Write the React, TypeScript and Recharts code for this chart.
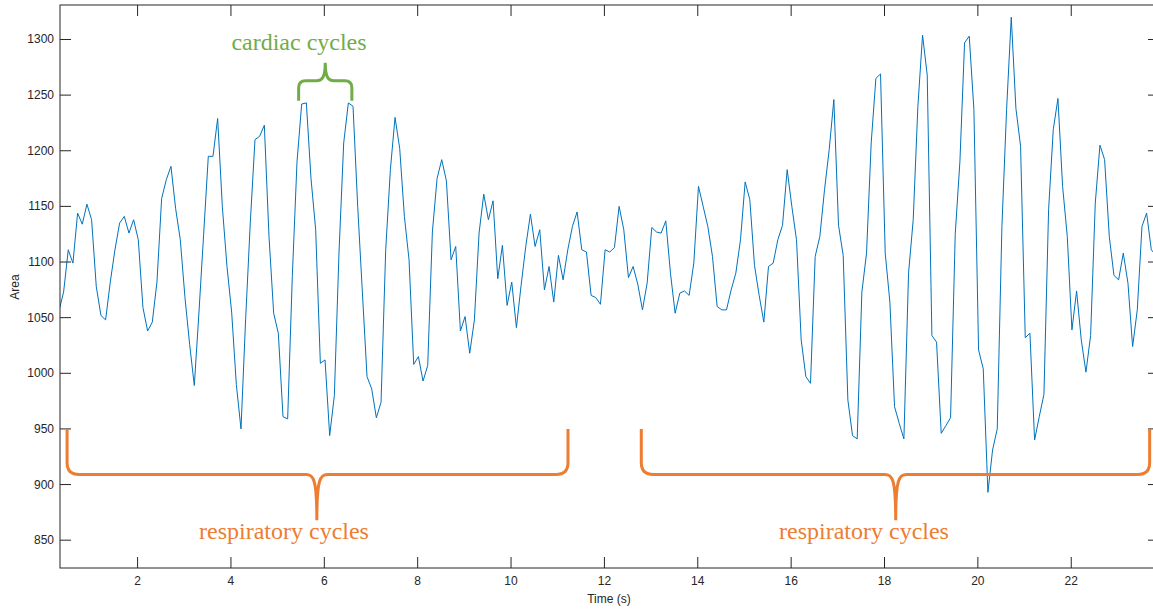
import { LineChart, Line, XAxis, YAxis } from "recharts";

// area trace, one sample every 0.1 s
const SAMPLE_START = 0.315;
const SAMPLE_STEP = 0.1;

const area = [
  1056, 1073, 1111, 1099, 1144, 1134, 1152, 1138, 1078, 1052,
  1048, 1082, 1111, 1135, 1141, 1126, 1138, 1120, 1059, 1038,
  1046, 1082, 1157, 1174, 1186, 1148, 1120, 1068, 1026, 989,
  1055, 1125, 1195, 1195, 1229, 1150, 1096, 1055, 990, 950,
  1049, 1136, 1210, 1213, 1223, 1123, 1054, 1036, 961, 959,
  1088, 1190, 1242, 1243, 1175, 1129, 1009, 1012, 944, 980,
  1109, 1207, 1243, 1240, 1150, 1073, 997, 986, 960, 974,
  1111, 1183, 1230, 1202, 1141, 1102, 1008, 1015, 993, 1007,
  1127, 1175, 1192, 1173, 1102, 1114, 1038, 1051, 1018, 1048,
  1126, 1161, 1138, 1155, 1085, 1115, 1061, 1082, 1041, 1079,
  1114, 1143, 1114, 1129, 1075, 1096, 1064, 1106, 1084, 1111,
  1132, 1145, 1111, 1109, 1070, 1068, 1062, 1111, 1109, 1113,
  1150, 1129, 1086, 1096, 1080, 1057, 1081, 1131, 1127, 1126,
  1137, 1090, 1054, 1072, 1074, 1070, 1099, 1168, 1150, 1132,
  1105, 1060, 1057, 1057, 1075, 1090, 1120, 1172, 1156, 1097,
  1070, 1046, 1096, 1099, 1120, 1133, 1183, 1150, 1120, 1030,
  997, 991, 1105, 1123, 1165, 1201, 1246, 1133, 1106, 976,
  944, 941, 1073, 1108, 1207, 1265, 1269, 1108, 1064, 970,
  955, 941, 1090, 1138, 1240, 1304, 1268, 1034, 1028, 946,
  953, 960, 1125, 1190, 1297, 1303, 1237, 1021, 1004, 893,
  931, 950, 1132, 1237, 1320, 1238, 1204, 1032, 1036, 940,
  961, 981, 1147, 1219, 1247, 1168, 1123, 1039, 1074, 1030,
  1001, 1034, 1153, 1205, 1192, 1123, 1088, 1084, 1108, 1081,
  1024, 1057, 1132, 1144, 1111, 1106,
];

const xTicks = [2, 4, 6, 8, 10, 12, 14, 16, 18, 20, 22];
const yTicks = [850, 900, 950, 1000, 1050, 1100, 1150, 1200, 1250, 1300];
const xDomain: [number, number] = [0.338, 23.88];
const yDomain: [number, number] = [825, 1331];

// annotation braces, in data units
const cardiacBrace = { from: 5.45, to: 6.59, tip: 6.02, arm: 1245, bar: 1263, point: 1279 };
const respBraces = [
  { from: 0.49, to: 11.22, tip: 5.84, arm: 950, bar: 909, point: 868 },
  { from: 12.79, to: 23.68, tip: 18.24, arm: 950, bar: 909, point: 868 },
];

const rows = area.map((v, i) => ({
  t: +(SAMPLE_START + i * SAMPLE_STEP).toFixed(3),
  area: v,
}));

const W = 1170;
const H = 609;
const LEFT = 60;
const RIGHT = 1159;
const TOP = 5;
const BOTTOM = 568;
const TICK = 11;
const INK = "#262626";
const FONT = "'Liberation Sans', Arial, sans-serif";
const SERIF = "'Liberation Serif', 'Times New Roman', serif";

const sx = (t: number) => LEFT + ((t - xDomain[0]) / (xDomain[1] - xDomain[0])) * (RIGHT - LEFT);
const sy = (v: number) => BOTTOM - ((v - yDomain[0]) / (yDomain[1] - yDomain[0])) * (BOTTOM - TOP);

function XTick(props: any) {
  const { x, payload } = props;
  return (
    <g>
      <line x1={x} x2={x} y1={BOTTOM} y2={BOTTOM - TICK} stroke={INK} />
      <line x1={x} x2={x} y1={TOP} y2={TOP + TICK} stroke={INK} />
      <text x={x} y={585} textAnchor="middle" fontSize={12} fill={INK} fontFamily={FONT}>
        {payload.value}
      </text>
    </g>
  );
}

function YTick(props: any) {
  const { y, payload } = props;
  return (
    <g>
      <line x1={LEFT} x2={LEFT + TICK} y1={y} y2={y} stroke={INK} />
      <line x1={RIGHT} x2={RIGHT - TICK} y1={y} y2={y} stroke={INK} />
      <text x={54} y={y + 4} textAnchor="end" fontSize={12} fill={INK} fontFamily={FONT}>
        {payload.value}
      </text>
    </g>
  );
}

// curly brace: two arms joined by a bar with a pointed tip in the middle
function bracePath(b: typeof cardiacBrace, r: number, w: number) {
  const xl = sx(b.from);
  const xr = sx(b.to);
  const xt = sx(b.tip);
  const ya = sy(b.arm);
  const yb = sy(b.bar);
  const yt = sy(b.point);
  const dir = yb > ya ? 1 : -1;
  return [
    `M ${xl} ${ya}`,
    `L ${xl} ${yb - dir * r}`,
    `Q ${xl} ${yb} ${xl + r} ${yb}`,
    `L ${xt - w} ${yb}`,
    `C ${xt - w * 0.3} ${yb} ${xt} ${yb + dir * 4} ${xt} ${yt}`,
    `C ${xt} ${yb + dir * 4} ${xt + w * 0.3} ${yb} ${xt + w} ${yb}`,
    `L ${xr - r} ${yb}`,
    `Q ${xr} ${yb} ${xr} ${yb - dir * r}`,
    `L ${xr} ${ya}`,
  ].join(" ");
}

export default function App() {
  return (
    <div style={{ position: "absolute", left: 0, top: 0, width: 1153, height: 609, overflow: "hidden", background: "#fff" }}>
      <LineChart width={W} height={H} data={rows} margin={{ top: TOP, right: W - RIGHT, left: 0, bottom: 0 }}>
        <XAxis
          type="number"
          dataKey="t"
          domain={xDomain}
          ticks={xTicks}
          allowDataOverflow
          height={H - BOTTOM}
          tickLine={false}
          axisLine={false}
          tick={<XTick />}
        />
        <YAxis
          type="number"
          domain={yDomain}
          ticks={yTicks}
          allowDataOverflow
          width={LEFT}
          tickLine={false}
          axisLine={false}
          tick={<YTick />}
        />
        <Line
          type="linear"
          dataKey="area"
          stroke="#0072BD"
          strokeWidth={1}
          dot={false}
          isAnimationActive={false}
        />
      </LineChart>
      <svg width={W} height={H} style={{ position: "absolute", left: 0, top: 0, pointerEvents: "none" }}>
        <rect x={LEFT} y={TOP} width={RIGHT - LEFT} height={BOTTOM - TOP} fill="none" stroke={INK} strokeWidth={1} />
        <text x={609} y={603} textAnchor="middle" fontSize={12} fill={INK} fontFamily={FONT}>
          Time (s)
        </text>
        <text x={19} y={287} textAnchor="middle" fontSize={12} fill={INK} fontFamily={FONT} transform="rotate(-90 19 287)">
          Area
        </text>
        <path d={bracePath(cardiacBrace, 7, 9)} fill="none" stroke="#70AD47" strokeWidth={3} />
        {respBraces.map((b, i) => (
          <path key={i} d={bracePath(b, 12, 11)} fill="none" stroke="#ED7D31" strokeWidth={3} />
        ))}
        <text x={299} y={50} textAnchor="middle" fontSize={24} fill="#70AD47" fontFamily={SERIF}>
          cardiac cycles
        </text>
        <text x={284} y={539} textAnchor="middle" fontSize={24} fill="#ED7D31" fontFamily={SERIF}>
          respiratory cycles
        </text>
        <text x={864} y={539} textAnchor="middle" fontSize={24} fill="#ED7D31" fontFamily={SERIF}>
          respiratory cycles
        </text>
      </svg>
    </div>
  );
}
